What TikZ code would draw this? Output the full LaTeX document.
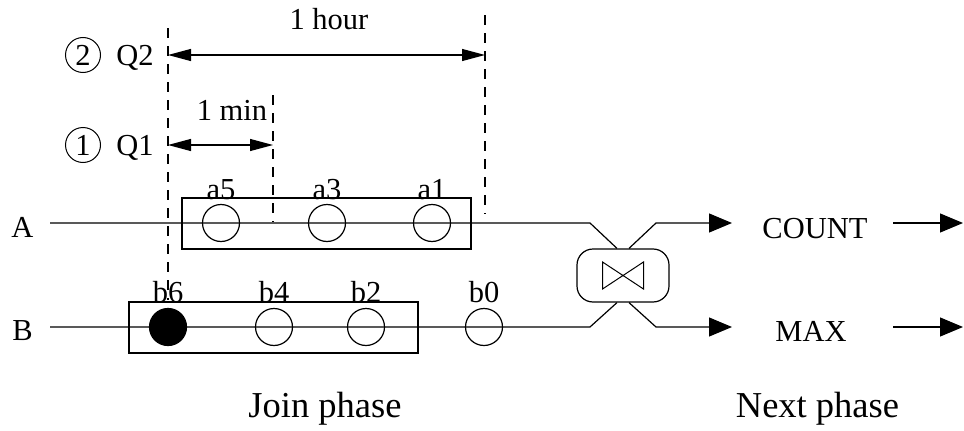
\documentclass[tikz,border=0pt]{standalone}
\usepackage{fontspec}
\setmainfont{Liberation Serif}
\usetikzlibrary{arrows.meta,calc}
\begin{document}
\begin{tikzpicture}[x=1pt,y=-1pt,line width=1.2pt,
  lbl/.style={font=\fontsize{30.5}{36}\selectfont,inner sep=0pt,anchor=base},
  big/.style={font=\fontsize{36.5}{42}\selectfont,inner sep=0pt,anchor=base},
  tup/.style={circle,draw,minimum size=37pt,inner sep=0pt},
  win/.style={draw,minimum width=289pt,minimum height=51pt,inner sep=0pt},
  cnum/.style={circle,draw,minimum size=35pt,inner sep=0pt,line width=1pt,font=\fontsize{30.5}{36}\selectfont},
  bound/.style={dash pattern=on 10pt off 8pt},
  outarrow/.style={-{Triangle[length=23pt,width=19pt]}},
  span/.style={{Triangle[length=23pt,width=12pt]}-{Triangle[length=23pt,width=12pt]}}]
\useasboundingbox (0,0) rectangle (964,431);

% stream labels
\node[lbl] (A) at (22.5,237) {A};
\node[lbl] (B) at (22.5,340) {B};

% windows
\node[win] (winA) at (326.5,223.5) {};
\node[win] (winB) at (273.5,327.5) {};

% tuples on A
\node[tup] (a5) at (221,223) {};
\node[tup] (a3) at (327,223) {};
\node[tup] (a1) at (432,223) {};
\node[lbl] (la5) at (221,199) {a5};
\node[lbl] (la3) at (327,199) {a3};
\node[lbl] (la1) at (432,199) {a1};

% tuples on B
\node[tup,fill=black] (b6) at (168,327) {};
\node[tup] (b4) at (274,327) {};
\node[tup] (b2) at (366,327) {};
\node[tup] (b0) at (484,327) {};
\node[lbl] (lb6) at (168,302) {b6};
\node[lbl] (lb4) at (274,302) {b4};
\node[lbl] (lb2) at (366,302) {b2};
\node[lbl] (lb0) at (484,302) {b0};

% join operator
\node[draw,rounded corners=16pt,minimum width=92pt,minimum height=53pt,inner sep=0pt] (J) at (623,275.5) {};
\draw[line width=1pt] ($(J.center)+(-20.5,-13.5)$) -- ($(J.center)+(-20.5,13.5)$)
  -- ($(J.center)+(20.5,-13.5)$) -- ($(J.center)+(20.5,13.5)$) -- cycle;

% stream lines
\coordinate (As) at (50,223);
\coordinate (Ab) at (590,223);
\coordinate (Bs) at (50,327);
\coordinate (Bb) at (590,327);
\draw (As) -- (Ab) -- ($(J.north)+(-6,0)$);
\draw (Bs) -- (Bb) -- ($(J.south)+(-6,0)$);

% outputs
\node[lbl] (count) at (815,238) {COUNT};
\node[lbl] (max) at (811,341) {MAX};
\coordinate (Cb) at (656,223);
\coordinate (Mb) at (656,327);
\coordinate (Ct) at (732,223);
\coordinate (Mt) at (732,327);
\draw[outarrow] ($(J.north)+(6,0)$) -- (Cb) -- (Ct);
\draw[outarrow] ($(J.south)+(6,0)$) -- (Mb) -- (Mt);
\coordinate (C2s) at (893,223);
\coordinate (C2e) at (963,223);
\coordinate (M2s) at (893,327);
\coordinate (M2e) at (963,327);
\draw[outarrow] (C2s) -- (C2e);
\draw[outarrow] (M2s) -- (M2e);

% window boundaries
\coordinate (d1t) at (168,28);
\coordinate (d1b) at (168,300);
\coordinate (d2t) at (273,95);
\coordinate (d2b) at (273,222);
\coordinate (d3t) at (485,15);
\coordinate (d3b) at (485,214);
\draw[bound] (d1t) -- (d1b);
\draw[bound] (d2t) -- (d2b);
\draw[bound] (d3t) -- (d3b);

% spans
\coordinate (q2l) at (168,55);
\coordinate (q2r) at (485,55);
\coordinate (q1l) at (168,145);
\coordinate (q1r) at (273,145);
\draw[span] (q2l) -- (q2r);
\draw[span] (q1l) -- (q1r);
\node[lbl] (hour) at (329,29) {1 hour};
\node[lbl] (min) at (232,120) {1 min};

% queries
\node[cnum] (c2) at (83,55) {2};
\node[lbl] (Q2) at (135,65) {Q2};
\node[cnum] (c1) at (83,145) {1};
\node[lbl] (Q1) at (135,155) {Q1};

% phases
\node[big] (join) at (325,417) {Join phase};
\node[big] (next) at (817.5,417) {Next phase};
\end{tikzpicture}
\end{document}
